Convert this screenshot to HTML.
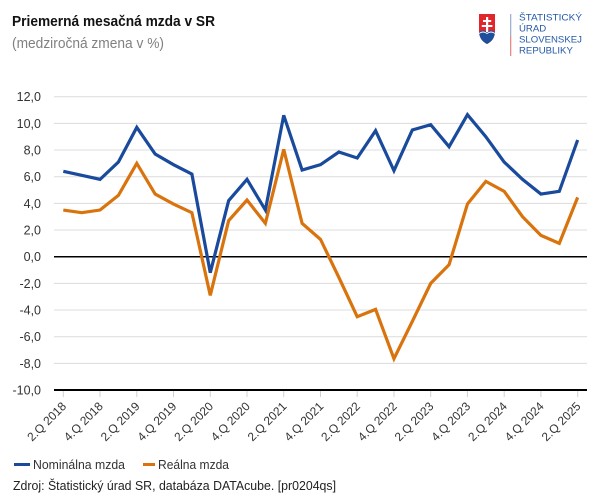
<!DOCTYPE html>
<html><head><meta charset="utf-8"><style>
html,body{margin:0;padding:0;background:#fff;}
svg{display:block;font-family:"Liberation Sans",Arial,sans-serif;}
</style></head><body>
<svg width="600" height="502" viewBox="0 0 600 502" xmlns="http://www.w3.org/2000/svg">
<rect width="600" height="502" fill="#fff"/>
<!-- title -->
<text x="12" y="26" font-size="15" font-weight="bold" fill="#111" textLength="203" lengthAdjust="spacingAndGlyphs">Priemerná mesačná mzda v SR</text>
<text x="12" y="48" font-size="15" fill="#808080" textLength="152" lengthAdjust="spacingAndGlyphs">(medziročná zmena v %)</text>
<!-- logo -->
<path d="M479,14 H495 V31 Q495,40 487,44 Q479,40 479,31 Z" fill="#e1262b"/>
<path d="M479,32 Q483,29 487,32 Q491,29 495,32 V31 Q495,40 487,44 Q479,40 479,31 Z" fill="#1d4f9c"/>
<path d="M479,33 Q483,30 487,33 Q491,30 495,33 L495,34 Q491,31 487,34 Q483,31 479,34Z" fill="#fff"/>
<rect x="486" y="17" width="2.2" height="15" fill="#fff"/>
<rect x="483" y="20" width="8.2" height="2" fill="#fff"/>
<rect x="481.8" y="25" width="10.6" height="2" fill="#fff"/>
<rect x="510" y="14" width="1.3" height="22" fill="#9fb2cf"/>
<rect x="510" y="36" width="1.3" height="20" fill="#e88a8c"/>
<g font-size="9.6" fill="#2458a8">
<text x="519" y="20.5" textLength="63" lengthAdjust="spacingAndGlyphs">ŠTATISTICKÝ</text>
<text x="519" y="31.3">ÚRAD</text>
<text x="519" y="42.5">SLOVENSKEJ</text>
<text x="519" y="53.3">REPUBLIKY</text>
</g>
<!-- gridlines -->
<g stroke="#dcdcdc" stroke-width="1">
<line x1="54" x2="587" y1="96.7" y2="96.7"/>
<line x1="54" x2="587" y1="123.4" y2="123.4"/>
<line x1="54" x2="587" y1="150.0" y2="150.0"/>
<line x1="54" x2="587" y1="176.7" y2="176.7"/>
<line x1="54" x2="587" y1="203.4" y2="203.4"/>
<line x1="54" x2="587" y1="230.0" y2="230.0"/>
<line x1="54" x2="587" y1="283.4" y2="283.4"/>
<line x1="54" x2="587" y1="310.0" y2="310.0"/>
<line x1="54" x2="587" y1="336.7" y2="336.7"/>
<line x1="54" x2="587" y1="363.4" y2="363.4"/>
</g>
<line x1="54" x2="587" y1="256.7" y2="256.7" stroke="#000" stroke-width="1.5"/>
<!-- y labels -->
<g font-size="12.5" fill="#333" text-anchor="end">
<text x="41" y="101">12,0</text>
<text x="41" y="128">10,0</text>
<text x="41" y="154.5">8,0</text>
<text x="41" y="181">6,0</text>
<text x="41" y="208">4,0</text>
<text x="41" y="234.5">2,0</text>
<text x="41" y="261">0,0</text>
<text x="41" y="288">-2,0</text>
<text x="41" y="314.5">-4,0</text>
<text x="41" y="341">-6,0</text>
<text x="41" y="368">-8,0</text>
<text x="41" y="394.5">-10,0</text>
</g>
<!-- ticks -->
<g stroke="#d0d0d0" stroke-width="1">
<line x1="63.3" x2="63.3" y1="390" y2="397"/>
<line x1="100.0" x2="100.0" y1="390" y2="397"/>
<line x1="136.8" x2="136.8" y1="390" y2="397"/>
<line x1="173.5" x2="173.5" y1="390" y2="397"/>
<line x1="210.3" x2="210.3" y1="390" y2="397"/>
<line x1="247.0" x2="247.0" y1="390" y2="397"/>
<line x1="283.7" x2="283.7" y1="390" y2="397"/>
<line x1="320.5" x2="320.5" y1="390" y2="397"/>
<line x1="357.2" x2="357.2" y1="390" y2="397"/>
<line x1="394.0" x2="394.0" y1="390" y2="397"/>
<line x1="430.7" x2="430.7" y1="390" y2="397"/>
<line x1="467.4" x2="467.4" y1="390" y2="397"/>
<line x1="504.2" x2="504.2" y1="390" y2="397"/>
<line x1="540.9" x2="540.9" y1="390" y2="397"/>
<line x1="577.7" x2="577.7" y1="390" y2="397"/>
</g>
<line x1="54" x2="587" y1="390" y2="390" stroke="#000" stroke-width="2"/>
<!-- x labels -->
<g font-size="12" fill="#333" text-anchor="end">
<text transform="translate(67,407) rotate(-45)">2.Q 2018</text>
<text transform="translate(103.7,407) rotate(-45)">4.Q 2018</text>
<text transform="translate(140.5,407) rotate(-45)">2.Q 2019</text>
<text transform="translate(177.2,407) rotate(-45)">4.Q 2019</text>
<text transform="translate(214,407) rotate(-45)">2.Q 2020</text>
<text transform="translate(250.7,407) rotate(-45)">4.Q 2020</text>
<text transform="translate(287.4,407) rotate(-45)">2.Q 2021</text>
<text transform="translate(324.2,407) rotate(-45)">4.Q 2021</text>
<text transform="translate(360.9,407) rotate(-45)">2.Q 2022</text>
<text transform="translate(397.7,407) rotate(-45)">4.Q 2022</text>
<text transform="translate(434.4,407) rotate(-45)">2.Q 2023</text>
<text transform="translate(471.1,407) rotate(-45)">4.Q 2023</text>
<text transform="translate(507.9,407) rotate(-45)">2.Q 2024</text>
<text transform="translate(544.6,407) rotate(-45)">4.Q 2024</text>
<text transform="translate(581.4,407) rotate(-45)">2.Q 2025</text>
</g>
<!-- series -->
<g transform="translate(63.3,256.7) scale(18.37,-13.335)" fill="none" stroke-linejoin="miter" stroke-miterlimit="3">
<polyline vector-effect="non-scaling-stroke" stroke="#d9730d" stroke-width="3.2"
points="0,3.5 1,3.3 2,3.5 3,4.6 4,7.0 5,4.7 6,3.95 7,3.3 8,-2.9 9,2.7 10,4.25 11,2.5 12,8.05 13,2.5 14,1.3 15,-1.55 16,-4.5 17,-3.95 18,-7.65 19,-4.85 20,-2.0 21,-0.6 22,3.95 23,5.65 24,4.9 25,3.0 26,1.6 27,1.0 28,4.45"/>
<polyline vector-effect="non-scaling-stroke" stroke="#1a4a9c" stroke-width="3.2"
points="0,6.4 1,6.1 2,5.8 3,7.1 4,9.7 5,7.7 6,6.9 7,6.2 8,-1.2 9,4.2 10,5.8 11,3.5 12,10.6 13,6.5 14,6.9 15,7.85 16,7.4 17,9.45 18,6.45 19,9.5 20,9.9 21,8.25 22,10.65 23,9.0 24,7.1 25,5.8 26,4.7 27,4.9 28,8.75"/>
</g>
<!-- legend -->
<line x1="14" x2="30" y1="464.5" y2="464.5" stroke="#1a4a9c" stroke-width="3"/>
<text x="33" y="469" font-size="13" fill="#333" textLength="92" lengthAdjust="spacingAndGlyphs">Nominálna mzda</text>
<line x1="143" x2="155" y1="464.5" y2="464.5" stroke="#d9730d" stroke-width="3"/>
<text x="158" y="469" font-size="13" fill="#333" textLength="71" lengthAdjust="spacingAndGlyphs">Reálna mzda</text>
<!-- source -->
<text x="13" y="490" font-size="13" fill="#222" textLength="323" lengthAdjust="spacingAndGlyphs">Zdroj: Štatistický úrad SR, databáza DATAcube. [pr0204qs]</text>
</svg>
</body></html>
